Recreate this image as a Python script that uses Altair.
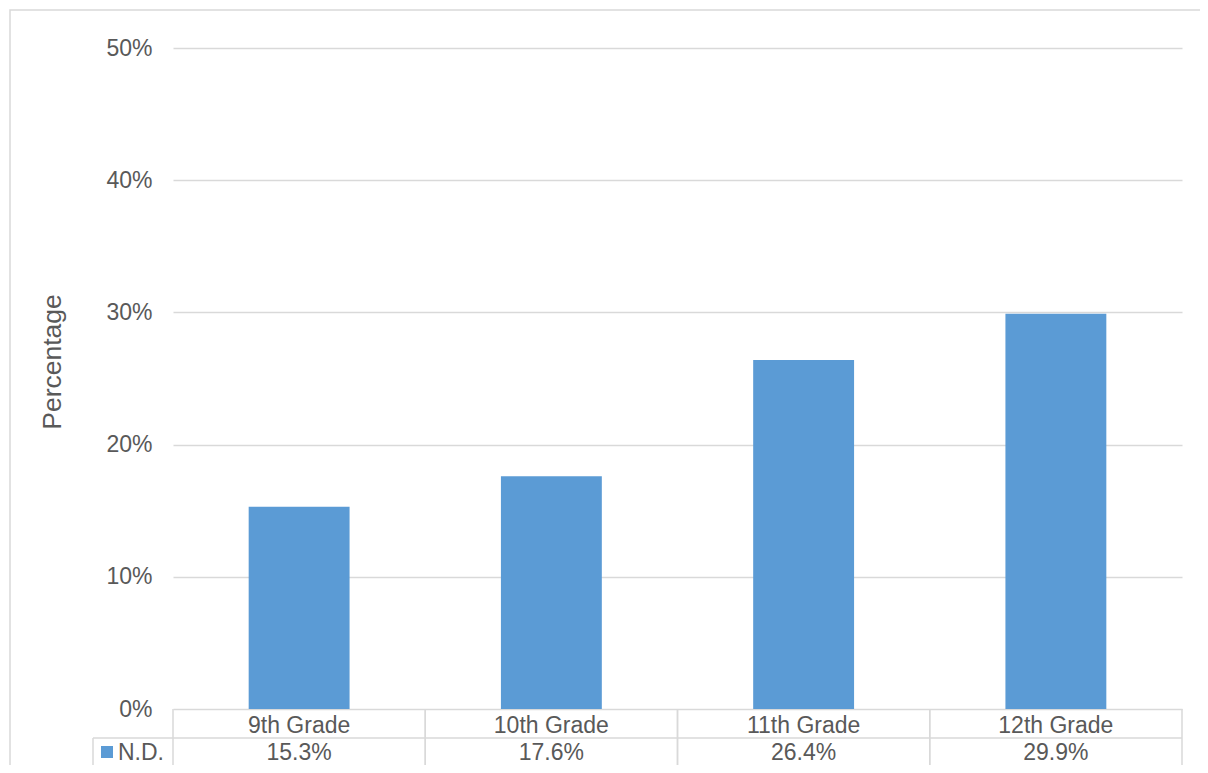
import altair as alt
import pandas as pd

grades = ["9th Grade", "10th Grade", "11th Grade", "12th Grade"]
values = [15.3, 17.6, 26.4, 29.9]
series_name = "N.D."
y_ticks = [0, 10, 20, 30, 40, 50]

BLUE = "#5b9bd5"
TEXT = "#595959"
LINE = "#d9d9d9"
FONT = "Liberation Sans"
FS = 23

df = pd.DataFrame({"grade": grades, "value": values})
df["label"] = [f"{v:.1f}%" for v in values]

W, H = 1009, 661

xenc = alt.X("grade:N", sort=grades, axis=None,
             scale=alt.Scale(paddingInner=0, paddingOuter=0))

base = alt.Chart(df)

bars = base.mark_bar(color=BLUE, width=alt.RelativeBandSize(0.4)).encode(
    x=xenc,
    y=alt.Y("value:Q",
            scale=alt.Scale(domain=[0, 50], nice=False),
            axis=alt.Axis(values=y_ticks, labelExpr="datum.value + '%'",
                          grid=True, gridColor=LINE, gridWidth=1.3,
                          domain=False, ticks=False, labelPadding=21,
                          labelFontSize=23, labelColor=TEXT, labelFont=FONT,
                          title="Percentage", titleFont=FONT, titleFontSize=26.5,
                          titleFontWeight="normal", titleColor=TEXT,
                          titleAngle=270, titleAlign="center",
                          titleBaseline="alphabetic", titleX=-113, titleY=313.5)),
)

cat_text = base.mark_text(font=FONT, fontSize=FS, color=TEXT,
                          baseline="alphabetic", align="center").encode(
    x=alt.X("grade:N", sort=grades, axis=None, bandPosition=0.5),
    y=alt.value(685),
    text="grade:N",
)

val_text = base.mark_text(font=FONT, fontSize=FS, color=TEXT,
                          baseline="alphabetic", align="center").encode(
    x=alt.X("grade:N", sort=grades, axis=None, bandPosition=0.5),
    y=alt.value(711.5),
    text="label:N",
)

vrule_start = base.mark_rule(color=LINE, strokeWidth=1.5).encode(
    x=alt.X("grade:N", sort=grades, axis=None, bandPosition=0),
    y=alt.value(661), y2=alt.value(800),
)
vrule_end = base.mark_rule(color=LINE, strokeWidth=1.5).encode(
    x=alt.X("grade:N", sort=grades, axis=None, bandPosition=1),
    y=alt.value(661), y2=alt.value(800),
)

one = alt.Chart(pd.DataFrame({"name": [series_name]}))

hrule = one.mark_rule(color=LINE, strokeWidth=1.5).encode(
    x=alt.value(-80), x2=alt.value(W), y=alt.value(690)
)
legend_vrule = one.mark_rule(color=LINE, strokeWidth=1.5).encode(
    x=alt.value(-80), y=alt.value(690), y2=alt.value(800)
)
legend_square = one.mark_square(color=BLUE, opacity=1, size=144).encode(
    x=alt.value(-66), y=alt.value(704)
)
legend_text = one.mark_text(font=FONT, fontSize=FS, color=TEXT,
                            baseline="alphabetic", align="left").encode(
    x=alt.value(-55), y=alt.value(711.5), text="name:N"
)
border = one.mark_rect(fillOpacity=0, stroke=LINE, strokeWidth=1.5).encode(
    x=alt.value(-163), x2=alt.value(1300), y=alt.value(-38), y2=alt.value(900)
)

chart = alt.layer(
    border, bars, vrule_start, vrule_end, hrule, legend_vrule,
    cat_text, val_text, legend_square, legend_text,
).properties(
    width=W, height=H,
    autosize=alt.AutoSizeParams(type="none"),
    padding={"left": 165, "top": 40, "right": 18, "bottom": 56},
    background="white",
).configure_view(strokeWidth=0)

chart.save("out.html", embed_options={"renderer": "svg", "actions": False})
